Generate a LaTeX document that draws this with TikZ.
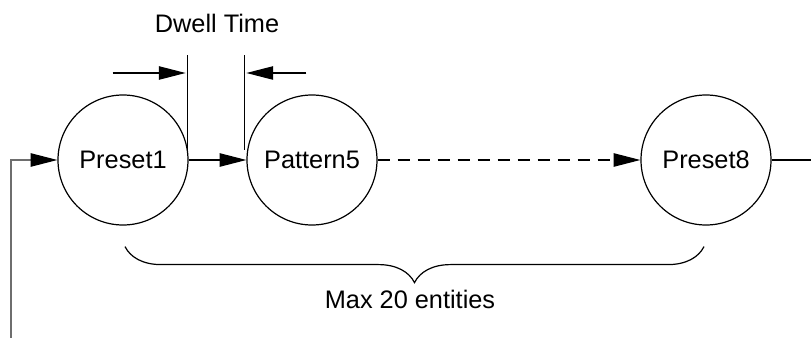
\documentclass[tikz,border=0pt]{standalone}
\usepackage{fontspec}
\setmainfont{Liberation Sans}
\usepackage{tikz}
\usetikzlibrary{arrows.meta, positioning, calc, decorations.pathreplacing}
\definecolor{loopgray}{RGB}{110, 110, 110}

\tikzset{
    entity/.style={circle, draw, line width=0.9pt, minimum size=97.5pt, inner sep=0pt, font=\fontsize{19}{22}\selectfont},
    flow/.style={line width=0.9pt, -{Triangle[length=20pt, width=10pt, color=black]}},
    label/.style={font=\fontsize{19}{22}\selectfont}
}

\begin{document}
\begin{tikzpicture}[x=0.75pt, y=-0.75pt]
    \useasboundingbox (0,0) rectangle (811,338);

    % the sequence
    \node[entity] (preset1) at (123,160) {Preset1};
    \node[entity] (pattern5) at (312,160) {Pattern5};
    \node[entity] (preset8) at (706,160) {Preset8};

    \draw[flow] (preset1) -- (pattern5);
    \draw[flow, dashed, dash pattern=on 9pt off 6pt] (pattern5) -- (preset8);
    \coordinate (exit) at (811,160);
    \draw[line width=0.9pt] (preset8) -- (exit);

    % loop back to the start
    \coordinate (loopfoot) at (11,338);
    \draw[flow, loopgray] (loopfoot) |- (preset1);

    % dwell time marks
    \draw[line width=0.9pt] ($(preset1.east)+(-1,-4)$) -- ++(0,-101) coordinate (dwellA);
    \draw[line width=0.9pt] ($(pattern5.west)+(-2,-10)$) -- ++(0,-95) coordinate (dwellB);
    \draw[flow] ($(dwellA)+(-75,18)$) -- ($(dwellA)+(-2,18)$);
    \draw[flow] ($(dwellB)+(62,18)$) -- ($(dwellB)+(2,18)$);
    \node[label, anchor=base] (dwell) at (217,33) {Dwell Time};

    % span of the sequence
    \coordinate (braceL) at ($(preset1.south)+(2,21)$);
    \coordinate (braceR) at ($(preset8.south)+(-2,21)$);
    \draw[line width=0.9pt, decorate, decoration={brace, mirror, amplitude=27pt}] (braceL) -- (braceR);
    \node[label, anchor=base] (span) at (410,309) {Max 20 entities};
\end{tikzpicture}
\end{document}
